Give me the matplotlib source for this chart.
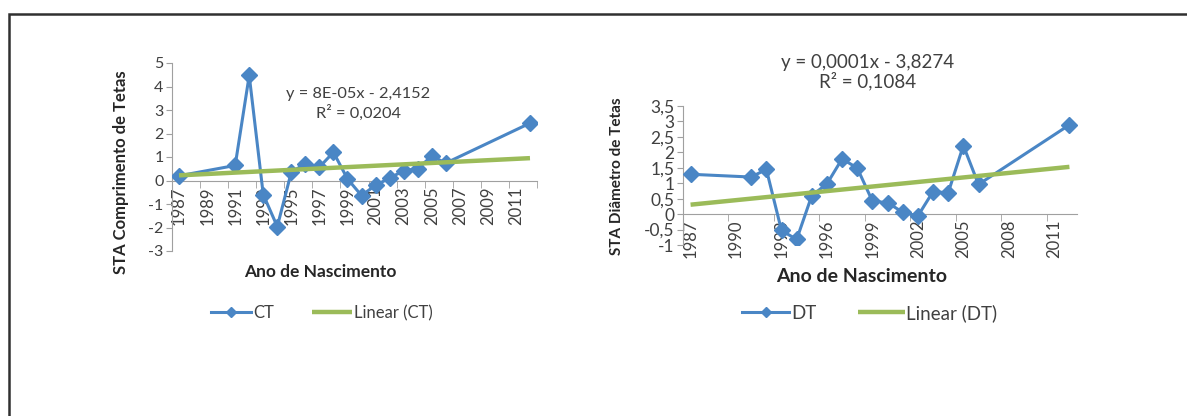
import numpy as np
import matplotlib
matplotlib.use("Agg")
import matplotlib.pyplot as plt
from matplotlib.patches import Rectangle

plt.rcParams['font.family'] = ['Lato', 'DejaVu Sans']

# dados
anos_ct = [1987, 1991, 1992, 1993, 1994, 1995, 1996, 1997, 1998, 1999,
           2000, 2001, 2002, 2003, 2004, 2005, 2006, 2012]
ct = [0.2, 0.64, 4.47, -0.6, -1.96, 0.36, 0.71, 0.57, 1.2, 0.07,
      -0.64, -0.2, 0.1, 0.42, 0.5, 1.04, 0.74, 2.44]

anos_dt = [1987, 1991, 1992, 1993, 1994, 1995, 1996, 1997, 1998, 1999,
           2000, 2001, 2002, 2003, 2004, 2005, 2006, 2012]
dt = [1.29, 1.2, 1.45, -0.53, -0.82, 0.6, 0.98, 1.79, 1.49, 0.42,
      0.37, 0.06, -0.06, 0.73, 0.69, 2.22, 0.96, 2.89]

eq_ct = "y = 8E-05x - 2,4152\nR² = 0,0204"
eq_dt = "y = 0,0001x - 3,8274\nR² = 0,1084"

AZUL = '#4A86C5'
VERDE = '#9BBB59'
CINZA = '#404040'

W, H = 1187, 416
fig = plt.figure(figsize=(W / 100, H / 100), dpi=100)


def px_axes(x0, y0, x1, y1):
    # caixa em pixels (origem em cima à esquerda)
    return fig.add_axes([x0 / W, 1 - y1 / H, (x1 - x0) / W, (y1 - y0) / H])


def painel(ax, anos, vals, rotulos_x, ticks_y, fmt_y, nome, fs_y):
    # set_position apaga as propriedades dos ticks, por isso vem primeiro
    for s in ['top', 'right']:
        ax.spines[s].set_visible(False)
    ax.spines['bottom'].set_position(('data', 0))
    ax.spines['bottom'].set_color('#A0A0A0')
    ax.spines['left'].set_color('#A0A0A0')
    ax.patch.set_alpha(0)

    ax.plot(anos, vals, color=AZUL, lw=2.2, marker='D', ms=8,
            label=nome, zorder=3)
    a, b = np.polyfit(anos, vals, 1)
    xs = np.array([anos[0], anos[-1]])
    ax.plot(xs, a * xs + b, color=VERDE, lw=3.2, solid_capstyle='butt',
            label='Linear (%s)' % nome, zorder=4)
    ax.set_xlim(1986.5, 2012.5)
    ax.set_ylim(ticks_y[0], ticks_y[-1])
    ax.set_yticks(ticks_y)
    ax.set_yticklabels([fmt_y(v) for v in ticks_y])
    ax.set_xticks(rotulos_x)
    ax.set_xticklabels([str(v) for v in rotulos_x])
    passo = rotulos_x[1] - rotulos_x[0]
    ax.set_xticks(np.arange(rotulos_x[0] - 0.5, 2012.6, passo), minor=True)
    ax.tick_params(axis='x', which='major', length=0, pad=4,
                   labelsize=12, labelcolor=CINZA, labelrotation=90)
    ax.tick_params(axis='x', which='minor', length=5, color='#A0A0A0',
                   direction='out')
    ax.tick_params(axis='y', length=4, color='#A0A0A0', labelsize=fs_y,
                   labelcolor=CINZA, pad=2)


ax1 = px_axes(172, 63, 537, 251)
painel(ax1, anos_ct, ct, list(range(1987, 2012, 2)), list(range(-3, 6)),
       lambda v: str(v), 'CT', 11.5)
ax2 = px_axes(683, 106, 1077, 245)
painel(ax2, anos_dt, dt, list(range(1987, 2012, 3)),
       [-1, -0.5, 0, 0.5, 1, 1.5, 2, 2.5, 3, 3.5],
       lambda v: ('%g' % v).replace('.', ','), 'DT', 12.5)

# rótulos dos eixos
fig.text(121 / W, 1 - 172 / H, 'STA Comprimento de Tetas', rotation=90,
         ha='center', va='center', fontsize=12, fontweight='bold',
         color='#262626')
fig.text(617 / W, 1 - 176 / H, 'STA Diâmetro de Tetas', rotation=90,
         ha='center', va='center', fontsize=11, fontweight='bold',
         color='#262626')
fig.text(320 / W, 1 - 272 / H, 'Ano de Nascimento', ha='center',
         va='center', fontsize=12.5, fontweight='bold', color='#262626')
fig.text(862 / W, 1 - 277 / H, 'Ano de Nascimento', ha='center',
         va='center', fontsize=14, fontweight='bold', color='#262626')

# equações da tendência
fig.text(358 / W, 1 - 104 / H, eq_ct, ha='center', va='center',
         fontsize=11.8, color=CINZA, linespacing=1.25)
fig.text(868 / W, 1 - 72 / H, eq_dt, ha='center', va='center',
         fontsize=13.5, color=CINZA, linespacing=1.05)

# legendas
for ax, cx, fs, hl, cs in [(ax1, 322 / W, 12, 2.4, 2.3),
                           (ax2, 870 / W, 13.5, 2.5, 2.2)]:
    ax.legend(loc='center', bbox_to_anchor=(cx, 1 - 313 / H),
              bbox_transform=fig.transFigure, ncol=2, frameon=False,
              numpoints=1, handlelength=hl, handletextpad=0.1,
              columnspacing=cs, fontsize=fs, markerscale=0.6,
              labelcolor=CINZA)

# moldura da página
fig.add_artist(Rectangle((8.5 / W, -0.1), 1.2, 1 - 13.5 / H + 0.1,
                         transform=fig.transFigure, fill=False,
                         edgecolor='#303030', lw=1.8))

fig.savefig('out.png', dpi=100)
